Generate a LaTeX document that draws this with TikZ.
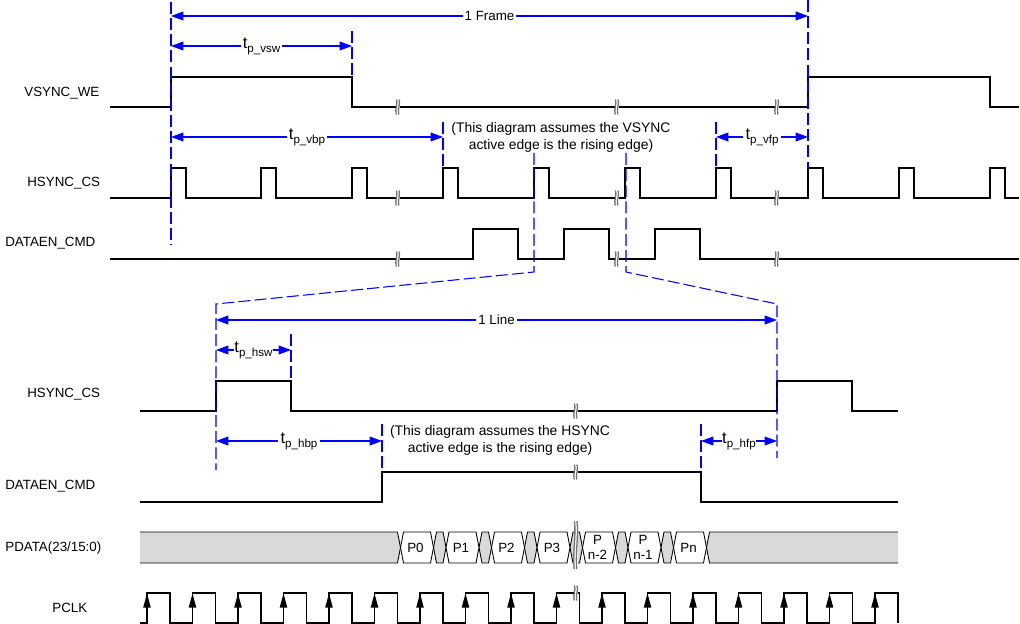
\documentclass[tikz,border=0pt]{standalone}
\usepackage{fontspec}
\setmainfont{Liberation Sans}
\usetikzlibrary{arrows.meta}
\definecolor{dblue}{RGB}{0,0,255}
\definecolor{busgrey}{RGB}{217,217,217}
\newcommand{\tsub}[1]{{\fontsize{9.4pt}{9pt}\selectfont t}\raisebox{-2.4pt}{\fontsize{6.6pt}{7pt}\selectfont #1}}
\newcommand{\brkmark}[3]{%
  \fill[white] (#1-2.2,#2-#3) rectangle (#1+1.6,#2+#3);
  \draw[brkline] (#1-1.6,#2-#3) .. controls (#1+0.2,#2-0.4*#3) and (#1-3.4,#2+0.3*#3) .. (#1-1.8,#2+#3);
  \draw[brkline] (#1+1.0,#2-#3) .. controls (#1+2.8,#2-0.4*#3) and (#1-0.8,#2+0.3*#3) .. (#1+0.8,#2+#3);
}
\begin{document}
\begin{tikzpicture}[x=0.02cm,y=-0.02cm,
  sig/.style={line width=0.6pt, black, line join=miter},
  guide/.style={dblue, line width=0.6pt, dash pattern=on 6.8pt off 2.4pt},
  dim/.style={dblue, line width=0.6pt, {Triangle[length=7pt,width=5pt]}-{Triangle[length=7pt,width=5pt]}},
  dimlbl/.style={fill=white, text=black, inner sep=1.2pt, font=\fontsize{7.6pt}{9pt}\selectfont},
  siglbl/.style={anchor=west, inner sep=0pt, font=\fontsize{7.6pt}{9pt}\selectfont},
  note/.style={align=center, inner sep=0pt, font=\fontsize{7.9pt}{9.6pt}\selectfont},
  plbl/.style={align=center, inner sep=0pt, font=\fontsize{7.6pt}{8.4pt}\selectfont},
  brkline/.style={black!55, line width=0.75pt},
  cell/.style={fill=white, draw=black, line width=0.5pt},
  gcell/.style={fill=busgrey, draw=black, line width=0.5pt},
  edgearrow/.style={fill=black}
  ]
\useasboundingbox (0,0) rectangle (1020,624);

% ---------- signal labels ----------
\node[siglbl] (lvs) at (24,93) {VSYNC\_WE};
\node[siglbl] (lhs1) at (27,183) {HSYNC\_CS};
\node[siglbl] (lde1) at (5,243) {DATAEN\_CMD};
\node[siglbl] (lhs2) at (27,394) {HSYNC\_CS};
\node[siglbl] (lde2) at (5,486) {DATAEN\_CMD};
\node[siglbl] (lpd) at (5,548) {PDATA(23/15:0)};
\node[siglbl] (lpc) at (52,608) {PCLK};

% ---------- top waveforms ----------
\draw[sig] (110,107) -- (171,107) -- (171,77) -- (352,77) -- (352,107) -- (808,107)
  -- (808,77) -- (990,77) -- (990,107) -- (1019,107);
\draw[sig] (110,198) \foreach \p in {171,261,352,443,534,625,716,808,899,990}
  { -- (\p,198) -- (\p,168) -- (\p+15,168) -- (\p+15,198) } -- (1019,198);
\draw[sig] (110,259) \foreach \p in {473,564,655}
  { -- (\p,259) -- (\p,229) -- (\p+45,229) -- (\p+45,259) } -- (1019,259);
\foreach \x in {398,617,777}{
  \brkmark{\x}{107}{7.5}
  \brkmark{\x}{198}{7.5}
  \brkmark{\x}{259}{7.5}
}

% ---------- bottom waveforms ----------
\draw[sig] (140,411) -- (216,411) -- (216,381) -- (291,381) -- (291,411) -- (777,411)
  -- (777,381) -- (852,381) -- (852,411) -- (898,411);
\draw[sig] (140,502) -- (382,502) -- (382,472) -- (701,472) -- (701,502) -- (898,502);

% PDATA bus
\fill[busgrey] (140,532) -- (397.5,532) -- (400.5,547.5) -- (397.5,563) -- (140,563) -- cycle;
\draw[black, line width=0.5pt] (140,532) -- (397.5,532) -- (400.5,547.5) -- (397.5,563) -- (140,563);
\foreach \k in {0,...,5}{
  \pgfmathsetmacro{\c}{417+45.5*\k}
  \draw[gcell] (\c+16.5,547.5) -- (\c+19.5,532) -- (\c+26,532) -- (\c+29,547.5) -- (\c+26,563) -- (\c+19.5,563) -- cycle;
}
\fill[busgrey] (706.5,547.5) -- (709.5,532) -- (898,532) -- (898,563) -- (709.5,563) -- cycle;
\draw[black, line width=0.5pt] (898,532) -- (709.5,532) -- (706.5,547.5) -- (709.5,563) -- (898,563);
\foreach \k/\t in {0/P0,1/P1,2/P2,3/P3,4/{P\\n-2},5/{P\\n-1},6/Pn}{
  \pgfmathsetmacro{\c}{417+45.5*\k}
  \draw[cell] (\c-16.5,547.5) -- (\c-13.5,532) -- (\c+13.5,532) -- (\c+16.5,547.5) -- (\c+13.5,563) -- (\c-13.5,563) -- cycle;
  \node[plbl] (p\k) at (\c-1.5,547.5) {\t};
}

% PCLK
\draw[sig] (140,623) \foreach \k in {0,...,16}
  { -- (147+45.5*\k,623) -- (147+45.5*\k,593) -- (170+45.5*\k,593) -- (170+45.5*\k,623) };
\foreach \k in {0,...,16}{
  \fill[edgearrow] (147+45.5*\k-3.8,607.5) -- (147+45.5*\k,593.5) -- (147+45.5*\k+3.8,607.5) -- cycle;
}

\brkmark{576}{411}{7.5}
\brkmark{576}{472}{7.5}
\brkmark{576}{545}{24}
\brkmark{576}{593}{7.5}

% ---------- guides ----------
\draw[guide] (171,2) -- (171,245);
\draw[guide] (352,31) -- (352,77);
\draw[guide] (443,122) -- (443,168);
\draw[guide] (716,122) -- (716,168);
\draw[guide] (808,0) -- (808,168);
\draw[guide] (534,153) -- (534,272) -- (216,304) -- (216,470);
\draw[guide] (626,153) -- (626,272) -- (777,304) -- (777,458);
\draw[guide] (291,334) -- (291,381);
\draw[guide] (382,424) -- (382,472);
\draw[guide] (701,424) -- (701,470);

% ---------- dimension arrows ----------
\coordinate (fA) at (171,16);  \coordinate (fB) at (808,16);
\coordinate (vswA) at (171,46); \coordinate (vswB) at (352,46);
\coordinate (vbpA) at (171,137); \coordinate (vbpB) at (443,137);
\coordinate (vfpA) at (716,137); \coordinate (vfpB) at (808,137);
\coordinate (lA) at (216,320); \coordinate (lB) at (777,320);
\coordinate (hswA) at (216,350); \coordinate (hswB) at (291,350);
\coordinate (hbpA) at (216,441); \coordinate (hbpB) at (382,441);
\coordinate (hfpA) at (701,441); \coordinate (hfpB) at (777,441);

\draw[dim] (fA) -- (fB) node[dimlbl, midway] (tf) {1 Frame};
\draw[dim] (vswA) -- (vswB) node[dimlbl, midway] (tvsw) {\tsub{p\_vsw}};
\draw[dim] (vbpA) -- (vbpB) node[dimlbl, midway] (tvbp) {\tsub{p\_vbp}};
\draw[dim] (vfpA) -- (vfpB) node[dimlbl, midway] (tvfp) {\tsub{p\_vfp}};
\draw[dim] (lA) -- (lB) node[dimlbl, midway] (tl) {1 Line};
\draw[dim] (hswA) -- (hswB) node[dimlbl, midway, inner sep=0.3pt] (thsw) {\tsub{p\_hsw}};
\draw[dim] (hbpA) -- (hbpB) node[dimlbl, midway] (thbp) {\tsub{p\_hbp}};
\draw[dim] (hfpA) -- (hfpB) node[dimlbl, midway, inner sep=0.3pt] (thfp) {\tsub{p\_hfp}};

% ---------- notes ----------
\node[note] (vnote) at (561,137) {(This diagram assumes the VSYNC\\active edge is the rising edge)};
\node[note] (hnote) at (500,440) {(This diagram assumes the HSYNC\\active edge is the rising edge)};
\end{tikzpicture}
\end{document}
